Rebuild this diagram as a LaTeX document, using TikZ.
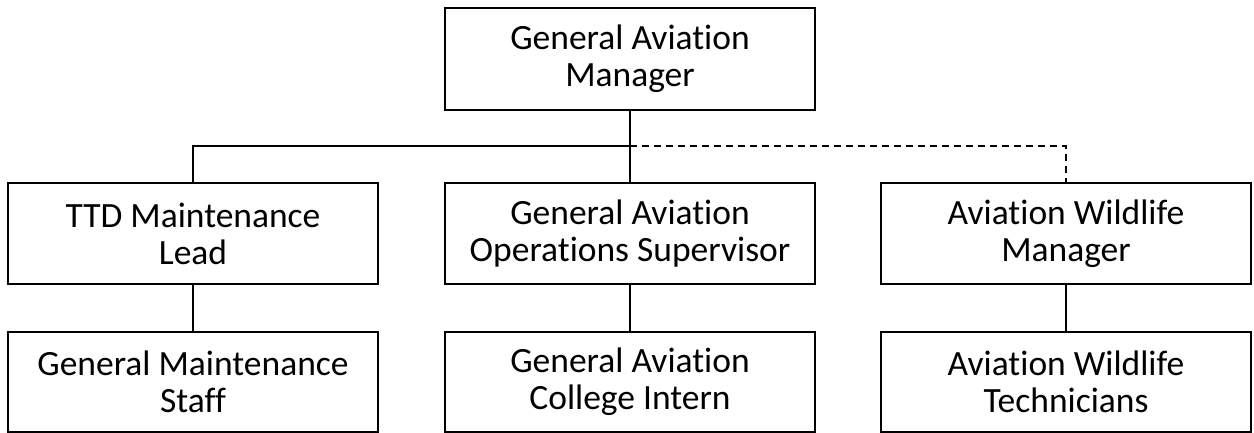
\documentclass[tikz,border=0pt]{standalone}
\usepackage{fontspec}
\setmainfont[Ligatures={NoCommon}]{Carlito}
\begin{document}
\begin{tikzpicture}[x=1pt,y=-1pt,
  orgbox/.style={draw=black,line width=1.4pt,rectangle,minimum width=370pt,minimum height=101pt,
    align=center,inner sep=0pt,font=\fontsize{35.5}{37}\selectfont},
  conn/.style={line width=1.4pt,draw=black},
  dconn/.style={conn,dash pattern=on 7pt off 5pt}]
\useasboundingbox (0,0) rectangle (1254,433);
\node[orgbox,minimum height=102pt] (gam) at (630,59) {General Aviation\\Manager};
\node[orgbox] (ttd) at (193,233.5) {TTD Maintenance\\Lead};
\node[orgbox] (gaos) at (630,233.5) {General Aviation\\Operations Supervisor};
\node[orgbox] (awm) at (1066,233.5) {Aviation Wildlife\\Manager};
\node[orgbox,minimum height=100pt] (gms) at (193,382) {General Maintenance\\Staff};
\node[orgbox,minimum height=100pt] (gaci) at (630,382) {General Aviation\\College Intern};
\node[orgbox,minimum height=100pt] (awt) at (1066,382) {Aviation Wildlife\\Technicians};
\coordinate (j) at (630,146);
\draw[conn] (gam.south) -- (gaos.north);
\draw[conn] (j) -| (ttd.north);
\draw[dconn] (j) -| (awm.north);
\draw[conn] (ttd.south) -- (gms.north);
\draw[conn] (gaos.south) -- (gaci.north);
\draw[conn] (awm.south) -- (awt.north);
\end{tikzpicture}
\end{document}
